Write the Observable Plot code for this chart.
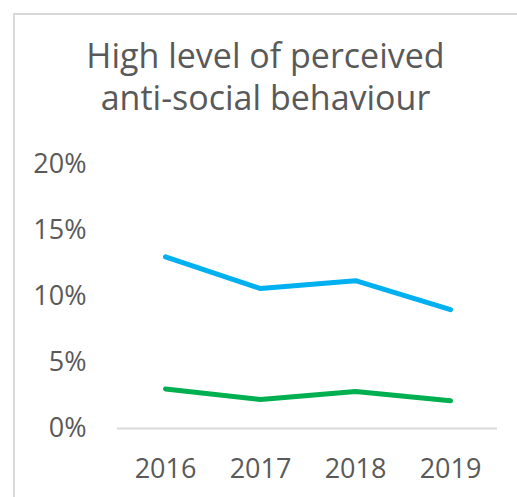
<!DOCTYPE html>
<html>
<head>
<meta charset="utf-8">
<script src="https://cdn.jsdelivr.net/npm/d3@7"></script>
<script src="https://cdn.jsdelivr.net/npm/@observablehq/plot@0.6"></script>
<style>
  html, body { margin: 0; padding: 0; background: #fff; width: 517px; height: 497px; overflow: hidden; font-family: "Open Sans", sans-serif; }
  #frame { position: absolute; left: 13px; top: 13px; width: 520px; height: 500px; border-left: 2px solid #d9d9d9; border-top: 2px solid #d9d9d9; }
  #title { position: absolute; left: 14px; width: 503px; top: 34px; text-align: center; color: #595959; font-size: 34px; line-height: 42px; }
  #chart { position: absolute; left: 0; top: 140px; }
</style>
</head>
<body>
<div id="frame"></div>
<div id="title">High level of perceived<br>anti-social behaviour</div>
<div id="chart"></div>
<script>
const years = ["2016", "2017", "2018", "2019"];
const blueValues = [0.130, 0.106, 0.112, 0.090];
const greenValues = [0.030, 0.022, 0.028, 0.021];
const yTicks = [0, 0.05, 0.10, 0.15, 0.20];

const blue = years.map((y, i) => ({year: y, value: blueValues[i]}));
const green = years.map((y, i) => ({year: y, value: greenValues[i]}));

const plot = Plot.plot({
  width: 517,
  height: 357,
  marginTop: 24,
  marginBottom: 69,
  marginLeft: 117,
  marginRight: 20,
  style: {fontFamily: "Open Sans, sans-serif", fontSize: "27px", color: "#595959", background: "transparent"},
  x: {type: "point", domain: years, padding: 0.5, label: null, tickSize: 0, tickPadding: 30},
  y: {domain: [0, 0.20], ticks: yTicks, tickFormat: d => Math.round(d * 100) + "%", label: null, tickSize: 0, tickPadding: 31},
  marks: [
    Plot.ruleY([0], {stroke: "#d9d9d9", strokeWidth: 2}),
    Plot.line(blue, {x: "year", y: "value", stroke: "#00b0f0", strokeWidth: 5, strokeLinecap: "round", strokeLinejoin: "round"}),
    Plot.line(green, {x: "year", y: "value", stroke: "#00b050", strokeWidth: 5, strokeLinecap: "round", strokeLinejoin: "round"})
  ]
});
plot.querySelectorAll("text").forEach(t => t.setAttribute("fill", "#595959"));
document.getElementById("chart").appendChild(plot);
</script>
</body>
</html>
